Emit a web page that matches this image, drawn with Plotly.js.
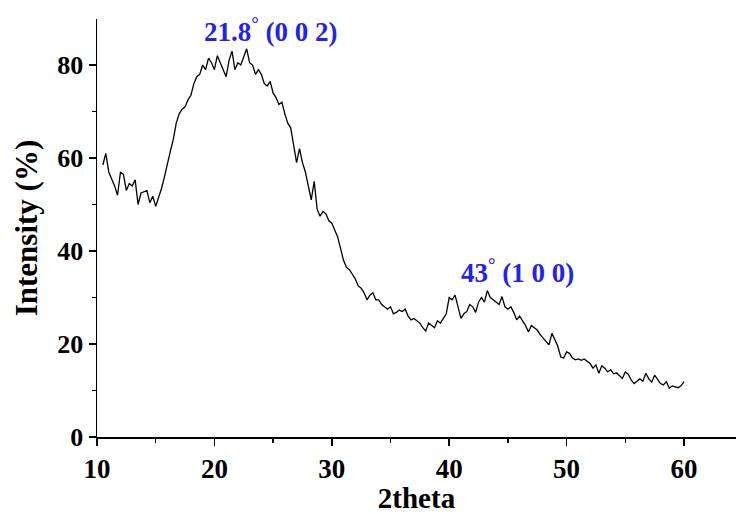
<!DOCTYPE html>
<html>
<head>
<meta charset="utf-8">
<script src="https://cdn.plot.ly/plotly-3.0.1.min.js"></script>
<style>html,body{margin:0;padding:0;background:#fff;}#chart{width:736px;height:514px;}</style>
</head>
<body>
<div id="chart"></div>
<script>
const twoTheta = [10.5,10.75,11,11.25,11.5,11.75,12,12.25,12.5,12.75,13,13.25,13.5,13.75,14,14.25,14.5,14.75,15,15.25,15.5,15.75,16,16.25,16.5,16.75,17,17.25,17.5,17.75,18,18.25,18.5,18.75,19,19.25,19.5,19.75,20,20.25,20.5,20.75,21,21.25,21.5,21.75,22,22.25,22.5,22.75,23,23.25,23.5,23.75,24,24.25,24.5,24.75,25,25.25,25.5,25.75,26,26.25,26.5,26.75,27,27.25,27.5,27.75,28,28.25,28.5,28.75,29,29.25,29.5,29.75,30,30.25,30.5,30.75,31,31.25,31.5,31.75,32,32.25,32.5,32.75,33,33.25,33.5,33.75,34,34.25,34.5,34.75,35,35.25,35.5,35.75,36,36.25,36.5,36.75,37,37.25,37.5,37.75,38,38.25,38.5,38.75,39,39.25,39.5,39.75,40,40.25,40.5,40.75,41,41.25,41.5,41.75,42,42.25,42.5,42.75,43,43.25,43.5,43.75,44,44.25,44.5,44.75,45,45.25,45.5,45.75,46,46.25,46.5,46.75,47,47.25,47.5,47.75,48,48.25,48.5,48.75,49,49.25,49.5,49.75,50,50.25,50.5,50.75,51,51.25,51.5,51.75,52,52.25,52.5,52.75,53,53.25,53.5,53.75,54,54.25,54.5,54.75,55,55.25,55.5,55.75,56,56.25,56.5,56.75,57,57.25,57.5,57.75,58,58.25,58.5,58.75,59,59.25,59.5,59.75,60];
const intensity = [58.5,61.0,57.0,55.5,54.0,52.0,57.0,56.5,53.0,54.5,54.0,55.3,50.0,52.5,52.8,53.0,50.4,51.8,49.6,51.5,53.5,56.0,59.0,61.5,64.0,67.5,69.5,70.5,71.0,72.5,73.5,76.0,77.5,78.0,80.0,79.0,81.5,80.5,79.0,82.0,80.5,79.0,77.5,81.0,83.0,79.0,80.5,80.0,82.0,83.5,80.5,80.0,78.0,79.0,78.0,76.0,75.5,76.5,74.0,73.0,71.5,72.0,69.5,67.5,66.5,62.5,59.0,62.0,59.0,57.0,54.0,51.0,55.0,49.0,47.5,48.5,48.0,46.5,46.0,44.5,43.0,40.5,38.0,36.5,36.0,35.0,34.0,32.5,32.0,31.0,29.5,30.5,31.0,29.5,29.5,28.5,28.0,27.5,28.0,26.5,26.8,27.3,27.0,27.5,26.0,25.2,25.5,25.0,24.5,23.5,22.8,24.5,24.0,23.5,25.0,24.5,25.5,26.5,30.0,29.5,30.5,28.0,25.5,26.5,27.0,28.5,28.0,26.8,29.0,30.0,29.0,31.5,30.0,29.5,29.0,28.5,30.2,28.0,27.5,28.0,26.8,25.2,26.0,25.0,24.0,22.6,24.0,23.5,23.0,22.0,21.2,20.5,19.8,22.3,21.0,19.5,17.2,17.0,18.3,18.0,17.0,16.6,16.8,16.5,16.8,16.2,15.8,14.8,15.5,13.7,15.3,14.8,14.0,14.5,13.6,13.8,13.2,12.6,14.0,13.5,12.3,11.5,12.0,12.5,12.0,13.7,12.5,11.8,13.3,12.5,11.5,11.2,11.9,10.5,11.0,10.8,10.6,11.0,11.9];
const peakLabels = ["21.8<sup>°</sup> (0 0 2)", "43<sup>°</sup> (1 0 0)"];
const peakX = [24.8, 45.8];
const peakY = [87.6, 35.8];

const serif = "Liberation Serif, Times New Roman, serif";
const data = [{
  x: twoTheta, y: intensity, type: "scatter", mode: "lines",
  line: {color: "#000", width: 1.3}, hoverinfo: "skip"
}];
const layout = {
  width: 736, height: 514,
  margin: {l: 97, r: 0, t: 19, b: 77},
  paper_bgcolor: "#fff", plot_bgcolor: "#fff",
  showlegend: false,
  xaxis: {
    range: [10, 64.43], tickvals: [10,20,30,40,50,60],
    ticks: "outside", ticklen: 7, tickwidth: 1.5, tickcolor: "#000",
    minor: {tickvals: [15,25,35,45,55], ticks: "outside", ticklen: 4, tickwidth: 1.5, tickcolor: "#000"},
    showline: true, linecolor: "#000", linewidth: 1.5, showgrid: false, zeroline: false,
    tickfont: {family: serif, size: 27, color: "#000", weight: "bold"},
    title: {text: "<b>2theta</b>", font: {family: serif, size: 29, color: "#000"}, standoff: 8}
  },
  yaxis: {
    range: [0, 89.9], tickvals: [0,20,40,60,80],
    ticks: "outside", ticklen: 7, tickwidth: 1.5, tickcolor: "#000",
    minor: {tickvals: [10,30,50,70], ticks: "outside", ticklen: 4, tickwidth: 1.5, tickcolor: "#000"},
    showline: true, linecolor: "#000", linewidth: 1.5, showgrid: false, zeroline: false,
    tickfont: {family: serif, size: 26, color: "#000", weight: "bold"},
    title: {text: "<b>Intensity (%)</b>", font: {family: serif, size: 31, color: "#000"}, standoff: 10}
  },
  annotations: peakLabels.map((t, i) => ({
    x: peakX[i], y: peakY[i], xref: "x", yref: "y", text: "<b>" + t + "</b>",
    showarrow: false, font: {family: serif, size: 27, color: "#2222ee"}
  }))
};
Plotly.newPlot("chart", data, layout, {displayModeBar: false, staticPlot: true});
</script>
</body>
</html>
